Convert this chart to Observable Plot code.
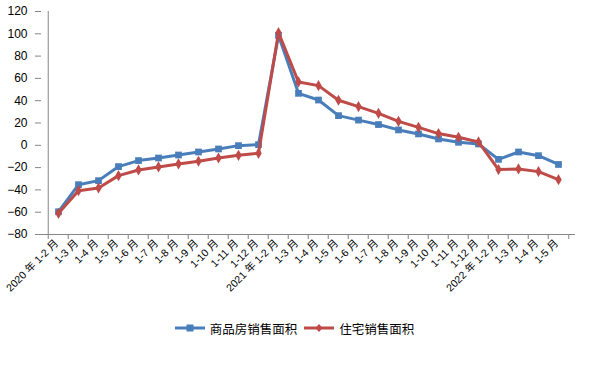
<!DOCTYPE html>
<html>
<head>
<meta charset="utf-8">
<script src="https://cdn.jsdelivr.net/npm/d3@7"></script>
<script src="https://cdn.jsdelivr.net/npm/@observablehq/plot@0.6"></script>
<style>
  html, body { margin: 0; padding: 0; background: #fff; }
  #chart { width: 589px; }
  #legend { display: flex; justify-content: center; align-items: center; height: 18px; margin-top: 9px;
    font-family: "Noto Sans CJK SC", sans-serif; font-size: 12.5px; color: #000; width: 589px; }
  #legend .item { display: flex; align-items: center; }
  #legend svg { display: block; margin-right: 5px; }
  #legend .gap { width: 7px; }
</style>
</head>
<body>
<div id="chart"></div>
<div id="legend"></div>
<script>
const xLabels = [
  "2020 年 1-2 月", "1-3 月", "1-4 月", "1-5 月", "1-6 月", "1-7 月", "1-8 月", "1-9 月", "1-10 月", "1-11 月", "1-12 月",
  "2021 年 1-2 月", "1-3 月", "1-4 月", "1-5 月", "1-6 月", "1-7 月", "1-8 月", "1-9 月", "1-10 月", "1-11 月", "1-12 月",
  "2022 年 1-2 月", "1-3 月", "1-4 月", "1-5 月"
];
const commercialSales = [
  -59.6, -35.3, -31.7, -19.1, -13.7, -11.4, -8.7, -6.0, -3.3, -0.3, 0.6,
  98.5, 46.6, 40.6, 26.6, 22.6, 18.6, 13.8, 10.2, 5.7, 2.7, 1.2,
  -12.6, -6.0, -9.3, -17.2
];
const residentialSales = [
  -61.0, -40.7, -38.3, -27.2, -22.1, -19.4, -16.7, -14.3, -11.4, -9.0, -7.2,
  101.0, 56.8, 53.5, 40.4, 34.7, 28.7, 21.5, 16.1, 10.5, 7.2, 3.0,
  -21.8, -21.2, -23.6, -30.8
];
const yTicks = [-80, -60, -40, -20, 0, 20, 40, 60, 80, 100, 120];
const seriesNames = ["商品房销售面积", "住宅销售面积"];

const blue = "#4A7EBB";
const red = "#BE4B48";
const axisGray = "#868686";

const idx = d3.range(xLabels.length);
const rowsA = idx.map(i => ({i, v: commercialSales[i]}));
const rowsB = idx.map(i => ({i, v: residentialSales[i]}));

const W = 589, ML = 41, MR = 14;
const bw = (W - ML - MR) / xLabels.length;

const chart = Plot.plot({
  width: W,
  height: 310,
  marginLeft: ML,
  marginRight: MR,
  marginTop: 11,
  marginBottom: 76,
  x: {type: "band", domain: idx, padding: 0},
  y: {domain: [-80, 120]},
  style: {fontFamily: "'Liberation Sans', Arial, 'Noto Sans CJK SC', sans-serif", fontSize: "12px", color: "#000", background: "#fff"},
  marks: [
    Plot.axisY({ticks: yTicks, tickSize: 6, tickPadding: 8, stroke: axisGray, label: null, fontSize: 12}),
    Plot.ruleX([0], {x: d => d, dx: -bw / 2, y1: -80, y2: 120, stroke: axisGray}),
    Plot.ruleY([-80], {stroke: axisGray}),
    Plot.axisX({ticks: idx, tickSize: 5, text: null, stroke: axisGray, dx: -bw / 2, label: null}),
    Plot.axisX({ticks: [idx[idx.length - 1]], tickSize: 5, text: null, stroke: axisGray, dx: bw / 2, label: null}),
    Plot.axisX({ticks: idx, tickSize: 0, tickRotate: -45, tickPadding: 7, tickFormat: i => xLabels[i], label: null, fontSize: 10.5, dx: -2}),
    Plot.line(rowsA, {x: "i", y: "v", stroke: blue, strokeWidth: 3}),
    Plot.dot(rowsA, {x: "i", y: "v", symbol: "square", r: 3.8, fill: blue, stroke: null}),
    Plot.line(rowsB, {x: "i", y: "v", stroke: red, strokeWidth: 3}),
    Plot.dot(rowsB, {x: "i", y: "v", symbol: "diamond", r: 3.4, fill: red, stroke: null})
  ]
});
document.getElementById("chart").appendChild(chart);

const legend = document.getElementById("legend");
function sample(color, square) {
  const marker = square
    ? `<rect x="11.5" y="3.5" width="7" height="7" fill="${color}"/>`
    : `<path d="M15,3 L18.5,7 L15,11 L11.5,7 Z" fill="${color}"/>`;
  return `<svg width="30" height="14"><line x1="0" x2="30" y1="7" y2="7" stroke="${color}" stroke-width="3"/>${marker}</svg>`;
}
legend.innerHTML =
  `<div class="item">${sample(blue, true)}<span>${seriesNames[0]}</span></div>` +
  `<div class="gap"></div>` +
  `<div class="item">${sample(red, false)}<span>${seriesNames[1]}</span></div>`;
</script>
</body>
</html>
